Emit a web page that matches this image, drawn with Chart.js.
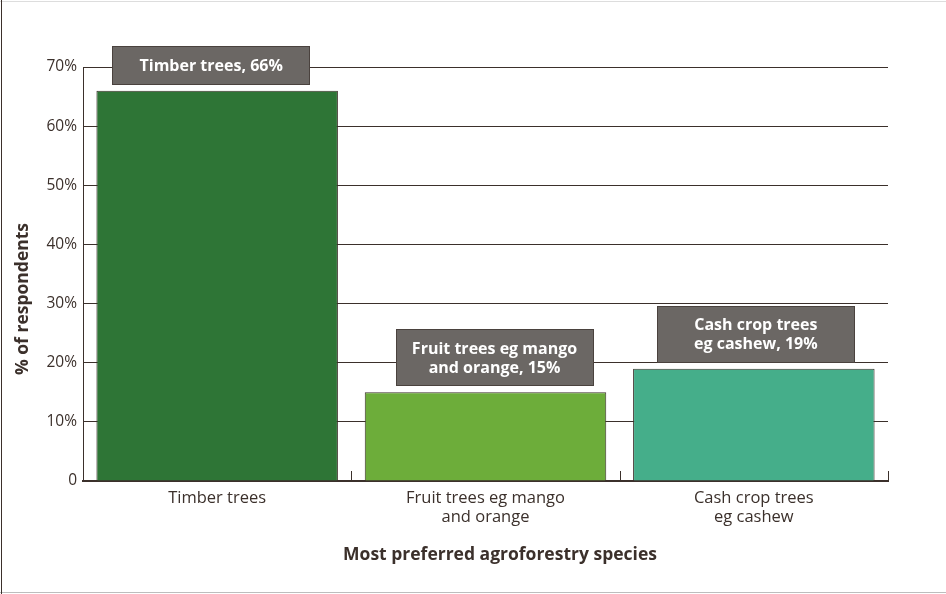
<!DOCTYPE html>
<html>
<head>
<meta charset="utf-8">
<title>Most preferred agroforestry species</title>
<script src="https://cdn.jsdelivr.net/npm/chart.js@4.4.1/dist/chart.umd.min.js"></script>
<style>
  html, body { margin: 0; padding: 0; background: #ffffff; }
  #wrap { position: relative; width: 946px; height: 594px; }
</style>
</head>
<body>
<div id="wrap"><canvas id="chart" width="946" height="594"></canvas></div>
<script>
// Categories (axis labels, line-broken as printed)
const categories = [
  ['Timber trees'],
  ['Fruit trees eg mango', 'and orange'],
  ['Cash crop trees', 'eg cashew']
];
// Callout text lines above each bar (value appended on the last line)
const calloutLines = [
  ['Timber trees'],
  ['Fruit trees eg mango', 'and orange'],
  ['Cash crop trees', 'eg cashew']
];
// Share of respondents, %
const shares = [66, 15, 19];
// Y axis ticks, %
const yTicks = [0, 10, 20, 30, 40, 50, 60, 70];

const barColors = ['#2e7536', '#6dad3a', '#45ae8a'];
const ink = '#3b302b';
const FONT = "'Open Sans', 'Noto Sans', sans-serif";

// horizontal nudge of each callout box relative to its bar centre
const calloutShift = [-6, 9, 2];

const framePlugin = {
  id: 'frame',
  beforeDraw(chart) {
    const ctx = chart.ctx;
    ctx.save();
    ctx.fillStyle = '#ffffff';
    ctx.fillRect(0, 0, chart.width, chart.height);
    ctx.strokeStyle = '#dddddd';
    ctx.lineWidth = 1;
    ctx.beginPath(); ctx.moveTo(0, 1.5); ctx.lineTo(chart.width, 1.5); ctx.stroke();
    ctx.strokeStyle = '#bdbdbd';
    ctx.beginPath(); ctx.moveTo(0, 592.5); ctx.lineTo(chart.width, 592.5); ctx.stroke();
    ctx.strokeStyle = ink;
    ctx.beginPath(); ctx.moveTo(1.5, 0); ctx.lineTo(1.5, chart.height); ctx.stroke();
    ctx.restore();
  }
};

// short upward tick marks at the category boundaries of the x axis
const boundaryTicks = {
  id: 'boundaryTicks',
  afterDatasetsDraw(chart) {
    const x = chart.scales.x;
    const ctx = chart.ctx;
    const bottom = chart.chartArea.bottom;
    const half = (x.getPixelForValue(1) - x.getPixelForValue(0)) / 2;
    ctx.save();
    ctx.strokeStyle = ink;
    ctx.lineWidth = 1;
    for (let i = 0; i < categories.length; i++) {
      const px = Math.round(x.getPixelForValue(i) + half) + 0.5;
      ctx.beginPath();
      ctx.moveTo(px, bottom);
      ctx.lineTo(px, bottom - 10);
      ctx.stroke();
    }
    ctx.restore();
  }
};

// grey callout boxes naming each bar and its value
const callouts = {
  id: 'callouts',
  afterDatasetsDraw(chart) {
    const meta = chart.getDatasetMeta(0);
    const ctx = chart.ctx;
    ctx.save();
    ctx.font = `bold 16px ${FONT}`;
    ctx.textAlign = 'center';
    ctx.textBaseline = 'middle';
    meta.data.forEach((bar, i) => {
      const lines = calloutLines[i].slice();
      lines[lines.length - 1] += ', ' + shares[i] + '%';
      const w = 198;
      const lh = 19;
      const h = lines.length === 1 ? 39 : 57;
      const cx = bar.x + calloutShift[i];
      const bottomY = bar.y - 6;
      const top = bottomY - h;
      ctx.fillStyle = '#6b6764';
      ctx.fillRect(Math.round(cx - w / 2), Math.round(top), w, h);
      ctx.strokeStyle = '#4a423e';
      ctx.lineWidth = 1;
      ctx.strokeRect(Math.round(cx - w / 2) + 0.5, Math.round(top) + 0.5, w - 1, h - 1);
      ctx.fillStyle = '#ffffff';
      const startY = top + h / 2 - (lines.length - 1) * lh / 2 + 1;
      lines.forEach((t, k) => ctx.fillText(t, cx, startY + k * lh));
    });
    ctx.restore();
  }
};

// axis titles
const axisTitles = {
  id: 'axisTitles',
  afterDraw(chart) {
    const ctx = chart.ctx;
    ctx.save();
    ctx.fillStyle = ink;
    ctx.font = `bold 17.5px ${FONT}`;
    ctx.textAlign = 'center';
    ctx.textBaseline = 'middle';
    ctx.fillText('Most preferred agroforestry species', 500, 555);
    ctx.translate(23, 299);
    ctx.rotate(-Math.PI / 2);
    ctx.fillText('% of respondents', 0, 0);
    ctx.restore();
  }
};

new Chart(document.getElementById('chart'), {
  type: 'bar',
  data: {
    labels: categories,
    datasets: [{
      data: shares,
      backgroundColor: barColors,
      borderColor: ink,
      borderWidth: 1,
      borderSkipped: 'bottom',
      barPercentage: 0.9,
      categoryPercentage: 1.0
    }]
  },
  options: {
    responsive: false,
    animation: false,
    events: [],
    layout: { padding: { left: 0, top: 67, right: 58, bottom: 0 } },
    plugins: {
      legend: { display: false },
      tooltip: { enabled: false },
      title: { display: false }
    },
    scales: {
      x: {
        grid: { display: false, drawTicks: false },
        border: { display: true, color: ink, width: 2 },
        ticks: {
          color: ink,
          font: { family: FONT, size: 16.5, lineHeight: 1.2 },
          padding: 7,
          maxRotation: 0,
          autoSkip: false
        },
        afterFit(scale) { scale.height = 113; }
      },
      y: {
        min: 0,
        max: 70,
        afterBuildTicks(scale) { scale.ticks = yTicks.map(v => ({ value: v })); },
        grid: { color: ink, lineWidth: 1, drawTicks: false },
        border: { display: true, color: ink, width: 1 },
        ticks: {
          color: ink,
          font: { family: FONT, size: 15.5 },
          padding: 6,
          callback: v => (v === 0 ? '0' : v + '%')
        },
        afterFit(scale) { scale.width = 83; }
      }
    }
  },
  plugins: [framePlugin, boundaryTicks, callouts, axisTitles]
});
</script>
</body>
</html>
